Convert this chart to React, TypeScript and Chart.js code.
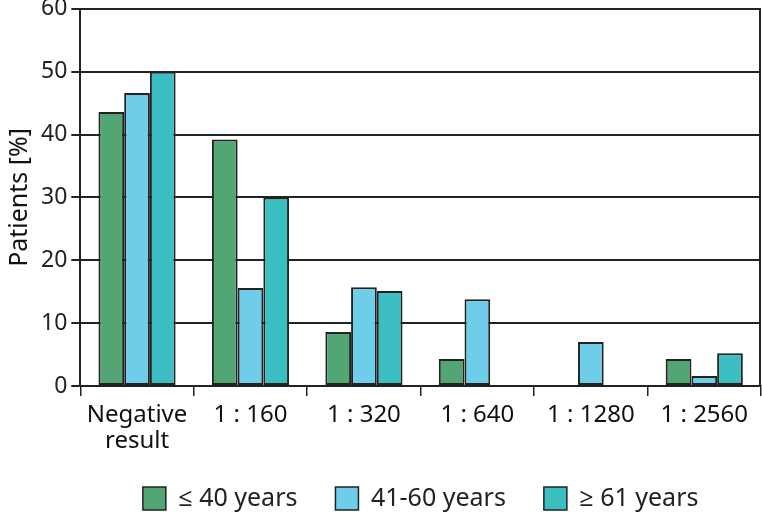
import React, { useEffect, useRef } from "react";
import { Chart, registerables } from "chart.js";

Chart.register(...registerables);

const categories: (string | string[])[] = [
  ["Negative", "result"],
  "1 : 160",
  "1 : 320",
  "1 : 640",
  "1 : 1280",
  "1 : 2560",
];
const seriesNames = ["\u2264 40 years", "41-60 years", "\u2265 61 years"];
const upTo40 = [43.6, 39.2, 8.6, 4.3, 0, 4.3];
const from41to60 = [46.6, 15.6, 15.7, 13.8, 7.0, 1.6];
const over61 = [50.0, 30.0, 15.1, 0, 0, 5.2];
const yTicks = [0, 10, 20, 30, 40, 50, 60];

const colors = ["#52a674", "#6ecde9", "#3cbfc2"];
const FONT = "'Noto Sans', 'Open Sans', sans-serif";
const SHIFT = 9;

export default function App() {
  const ref = useRef<HTMLCanvasElement>(null);
  useEffect(() => {
    document.body.style.margin = "0";
    const data = [upTo40, from41to60, over61];
    const helper = {
      id: "helper",
      beforeInit(chart: any) {
        const lg = chart.legend;
        if (lg) {
          const orig = lg.fit;
          lg.fit = function () {
            orig.call(this);
            this.height = 64;
          };
        }
      },
      afterDraw(chart: any) {
        const { ctx, chartArea } = chart;
        ctx.save();
        ctx.strokeStyle = "#222";
        ctx.lineWidth = 2;
        ctx.beginPath();
        ctx.moveTo(chartArea.right - 1, chartArea.top);
        ctx.lineTo(chartArea.right - 1, chartArea.bottom);
        ctx.stroke();
        ctx.restore();
      },
    };
    const chart = new Chart(ref.current!, {
      type: "bar",
      data: {
        labels: categories,
        datasets: seriesNames.map((name, i) => ({
          label: name,
          data: data[i],
          backgroundColor: colors[i],
          borderColor: "#222",
          borderWidth: 2,
          borderSkipped: false,
          categoryPercentage: 0.68,
          barPercentage: 1.0,
        })),
      },
      options: {
        responsive: false,
        animation: false,
        layout: { padding: { top: 0, right: 1, left: 3, bottom: 0 } },
        plugins: {
          legend: {
            position: "bottom",
            fullSize: false,
            labels: {
              boxWidth: 23,
              boxHeight: 23,
              padding: 38,
              color: "#222",
              font: { family: FONT, size: 25 },
              generateLabels: (chart: any) =>
                chart.data.datasets.map((ds: any, i: number) => ({
                  text: ds.label,
                  fillStyle: ds.backgroundColor,
                  strokeStyle: "#222",
                  lineWidth: 1.5,
                  datasetIndex: i,
                  fontColor: "#222",
                })),
            },
          },
          tooltip: { enabled: false },
        },
        scales: {
          x: {
            offset: true,
            afterFit: (scale: any) => {
              scale.height = 62;
            },
            grid: {
              offset: true,
              drawOnChartArea: false,
              drawTicks: true,
              tickLength: 10,
              color: "#222",
              lineWidth: 1.5,
            },
            border: { color: "#222", width: 2 },
            ticks: {
              color: "#111",
              font: { family: FONT, size: 24, lineHeight: 1.08 },
              padding: 6,
              maxRotation: 0,
              autoSkip: false,
            },
          },
          y: {
            min: 0,
            max: 60,
            afterBuildTicks: (axis: any) => {
              axis.ticks = yTicks.map((v) => ({ value: v }));
            },
            grid: {
              color: "#222",
              lineWidth: 2,
              drawTicks: true,
              tickLength: 9,
            },
            border: { color: "#222", width: 2 },
            ticks: {
              color: "#222",
              font: { family: FONT, size: 23 },
              padding: 4,
            },
            title: {
              display: true,
              text: "Patients [%]",
              color: "#111",
              font: { family: FONT, size: 25 },
              padding: 2,
            },
          },
        },
      },
      plugins: [helper],
    });
    return () => chart.destroy();
  }, []);
  return (
    <div style={{ width: 762, height: 512, overflow: "hidden", position: "relative" }}>
      <canvas
        ref={ref}
        width={762}
        height={512 + SHIFT}
        style={{ display: "block", position: "absolute", left: 0, top: -SHIFT }}
      />
    </div>
  );
}
